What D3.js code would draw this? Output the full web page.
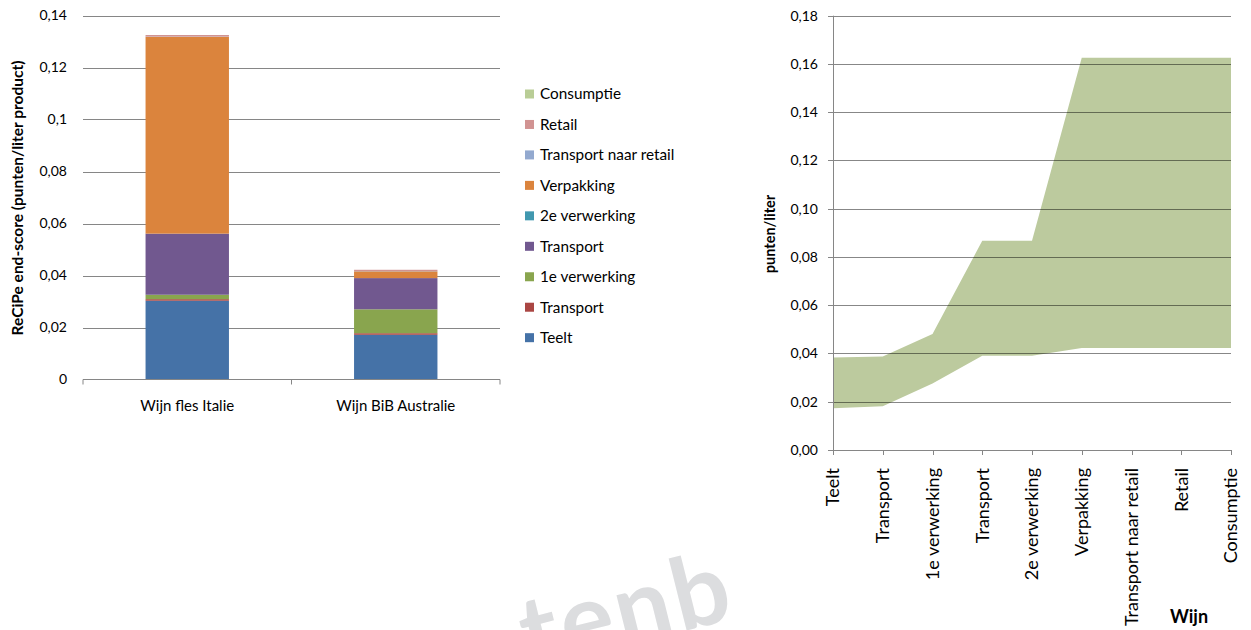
<!DOCTYPE html>
<html><head><meta charset="utf-8">
<script src="https://cdn.jsdelivr.net/npm/d3@7"></script>
<style>body{margin:0;background:#fff}svg{display:block}text{font-family:Lato,"Open Sans",sans-serif;fill:#000}</style>
</head><body>
<svg id="c" width="1251" height="630"></svg>
<script>
// ---- Left chart data ----
const categories = ["Wijn fles Italie", "Wijn BiB Australie"];
const seriesNames = ["Teelt","Transport","1e verwerking","Transport","2e verwerking","Verpakking","Transport naar retail","Retail","Consumptie"];
const seriesColors = ["#4572A7","#AA4643","#89A54E","#71588F","#4198AF","#DB843D","#93A9CF","#D19392","#B9CD96"];
const teelt        = [0.0303, 0.0172];
const transport1   = [0.0006, 0.0006];
const verwerking1  = [0.0017, 0.0092];
const transport2   = [0.0235, 0.0120];
const verwerking2  = [0.0000, 0.0000];
const verpakking   = [0.0757, 0.0026];
const transportRet = [0.0001, 0.0001];
const retail       = [0.0006, 0.0005];
const consumptie   = [0.0000, 0.0000];
const leftTickValues = [0,0.02,0.04,0.06,0.08,0.1,0.12,0.14];
const leftTickLabels = ["0","0,02","0,04","0,06","0,08","0,1","0,12","0,14"];

// ---- Right chart data ----
const stages = ["Teelt","Transport","1e verwerking","Transport ","2e verwerking","Verpakking","Transport naar retail","Retail","Consumptie"];
const upperValues = [0.0383,0.0388,0.0481,0.0867,0.0867,0.1626,0.1626,0.1626,0.1626];
const lowerValues = [0.0173,0.0181,0.0276,0.0391,0.0391,0.0423,0.0423,0.0423,0.0423];
const rightTickValues = [0,0.02,0.04,0.06,0.08,0.10,0.12,0.14,0.16,0.18];
const rightTickLabels = ["0,00","0,02","0,04","0,06","0,08","0,10","0,12","0,14","0,16","0,18"];

const svg = d3.select("#c");
const GRID = "#868686";

// watermark
const defs = svg.append("defs");
defs.append("clipPath").attr("id","wm").append("rect").attr("x",0).attr("y",0).attr("width",737).attr("height",630);
svg.append("g").attr("clip-path","url(#wm)")
  .append("text").attr("transform","rotate(-14)").attr("x",352).attr("y",778)
  .style("font-size","100px").style("font-weight","700").style("letter-spacing","3px")
  .style("fill","#dcdddf").text("tenb");

// ===== LEFT CHART =====
const xL = d3.scaleBand().domain(categories).range([83,500]).paddingInner(0.6).paddingOuter(0.3);
const yL = d3.scaleLinear().domain([0,0.14]).range([379.5,15.5]);
const gL = svg.append("g");
gL.selectAll("line.grid").data(leftTickValues.slice(1)).join("line")
  .attr("x1",83).attr("x2",500).attr("y1",d=>Math.round(yL(d))+0.5).attr("y2",d=>Math.round(yL(d))+0.5)
  .attr("stroke",GRID).attr("stroke-width",1);
gL.selectAll("text.yt").data(leftTickValues).join("text")
  .attr("x",67).attr("y",d=>yL(d)).attr("dy","0.35em").attr("text-anchor","end")
  .style("font-size","14px").text((d,i)=>leftTickLabels[i]);

const seriesData = [teelt,transport1,verwerking1,transport2,verwerking2,verpakking,transportRet,retail,consumptie];
const rows = categories.map((c,ci)=>{const o={cat:c}; seriesData.forEach((s,si)=>o["s"+si]=s[ci]); return o;});
const stack = d3.stack().keys(seriesData.map((s,i)=>"s"+i))(rows);
stack.forEach((layer,si)=>{
  gL.selectAll(null).data(layer).join("rect")
    .attr("x",d=>xL(d.data.cat)).attr("width",xL.bandwidth())
    .attr("y",d=>yL(d[1])).attr("height",d=>Math.max(0,yL(d[0])-yL(d[1])))
    .attr("fill",seriesColors[si]);
});
// x axis
gL.append("line").attr("x1",83).attr("x2",500).attr("y1",379.5).attr("y2",379.5).attr("stroke",GRID);
const bounds = [83, (83+500)/2, 500];
gL.selectAll("line.xt").data(bounds).join("line")
  .attr("x1",d=>d).attr("x2",d=>d).attr("y1",379.5).attr("y2",384.5).attr("stroke",GRID);
gL.selectAll("text.xl").data(categories).join("text")
  .attr("x",d=>xL(d)+xL.bandwidth()/2).attr("y",411).attr("text-anchor","middle")
  .style("font-size","15px").text(d=>d);
gL.append("text").attr("transform","translate(23,198) rotate(-90)").attr("text-anchor","middle")
  .style("font-size","15.5px").style("font-weight","700").text("ReCiPe end-score  (punten/liter product)");

// legend
const legendOrder = d3.range(seriesNames.length).reverse();
const lg = svg.append("g");
legendOrder.forEach((si,i)=>{
  const yc = 94 + i*30.46;
  lg.append("rect").attr("x",525).attr("y",yc-4.5).attr("width",9).attr("height",9).attr("fill",seriesColors[si]);
  lg.append("text").attr("x",540).attr("y",yc).attr("dy","0.35em").style("font-size","15.3px").text(seriesNames[si]);
});

// ===== RIGHT CHART =====
const xR = d3.scalePoint().domain(stages).range([833,1231]);
const yR = d3.scaleLinear().domain([0,0.18]).range([450,15.7]);
const gR = svg.append("g");
const area = d3.area().x((d,i)=>xR(stages[i])).y0((d,i)=>yR(lowerValues[i])).y1(d=>yR(d));
gR.append("path").datum(upperValues).attr("d",area).attr("fill","#BCCA9E");
gR.selectAll("line.grid").data(rightTickValues.slice(1)).join("line")
  .attr("x1",833).attr("x2",1231).attr("y1",d=>Math.round(yR(d))+0.5).attr("y2",d=>Math.round(yR(d))+0.5)
  .attr("stroke","#000").attr("stroke-opacity",0.47);
gR.append("line").attr("x1",833.5).attr("x2",833.5).attr("y1",15.7).attr("y2",450).attr("stroke",GRID);
gR.append("line").attr("x1",833).attr("x2",1231).attr("y1",450.5).attr("y2",450.5).attr("stroke",GRID);
gR.selectAll("line.yt").data(rightTickValues).join("line")
  .attr("x1",828).attr("x2",833).attr("y1",d=>Math.round(yR(d))+0.5).attr("y2",d=>Math.round(yR(d))+0.5).attr("stroke",GRID);
gR.selectAll("line.xt").data(stages).join("line")
  .attr("x1",d=>Math.round(xR(d))+0.5).attr("x2",d=>Math.round(xR(d))+0.5).attr("y1",450).attr("y2",455).attr("stroke",GRID);
gR.selectAll("text.ytl").data(rightTickValues).join("text")
  .attr("x",818).attr("y",d=>yR(d)).attr("dy","0.35em").attr("text-anchor","end")
  .style("font-size","14px").text((d,i)=>rightTickLabels[i]);
gR.selectAll("text.xtl").data(stages).join("text")
  .attr("transform",d=>`translate(${xR(d)},468) rotate(-90)`).attr("dy","0.35em").attr("text-anchor","end")
  .style("font-size","18px").text(d=>d.trim());
gR.append("text").attr("transform","translate(775,234) rotate(-90)").attr("text-anchor","middle")
  .style("font-size","14.5px").style("font-weight","700").text("punten/liter");
gR.append("text").attr("x",1189).attr("y",623).attr("text-anchor","middle")
  .style("font-size","18px").style("font-weight","700").text("Wijn");
</script>
</body></html>
